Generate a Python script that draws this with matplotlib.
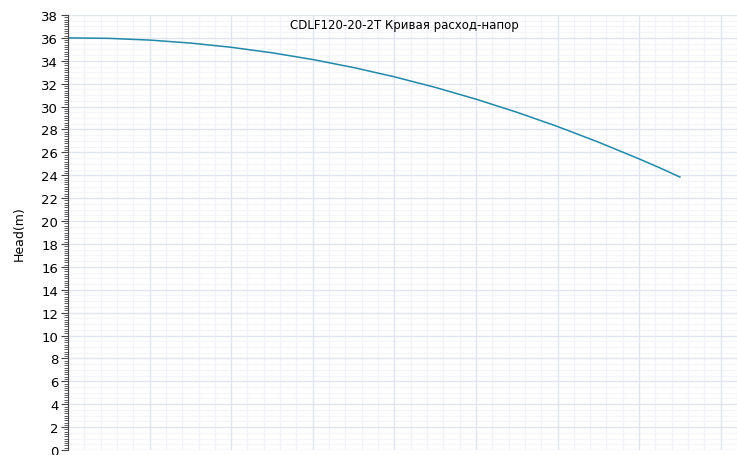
import matplotlib
matplotlib.use("Agg")
import matplotlib.pyplot as plt
from matplotlib.ticker import MultipleLocator

plt.rcParams['font.family'] = ['DejaVu Sans']

# flow (m3/h) vs head (m)
flow = [0, 10, 20, 30, 40, 50, 60, 70, 80, 90, 100, 110, 120, 130, 140, 145, 150]
head = [36.0, 35.96, 35.81, 35.55, 35.18, 34.70, 34.11, 33.41, 32.60, 31.68, 30.65,
        29.51, 28.26, 26.90, 25.43, 24.66, 23.85]

title = "CDLF120-20-2T Кривая расход-напор"

fig = plt.figure(figsize=(7.37, 4.56), dpi=100)
ax = fig.add_axes([68 / 737, 5 / 456, 1 - 68 / 737, (451 - 16) / 456])

ax.plot(flow, head, color="#2088a8", lw=1.1)

ax.set_xlim(0, 164)
ax.set_ylim(0, 38)
ax.xaxis.set_major_locator(MultipleLocator(20))
ax.xaxis.set_minor_locator(MultipleLocator(4))
ax.yaxis.set_major_locator(MultipleLocator(2))
ax.yaxis.set_minor_locator(MultipleLocator(0.2))

ax.grid(which="major", color="#e1e5f0", lw=1.0)
ax.grid(which="minor", axis="x", color="#f1f3f9", lw=0.9)
ax.set_axisbelow(True)
# lighter horizontal minor lines every 0.5
for v in [i * 0.5 for i in range(77)]:
    if v % 2:
        ax.axhline(v, color="#f3f5fa", lw=0.8, zorder=0)

for s in ["top", "right", "bottom"]:
    ax.spines[s].set_visible(False)
ax.spines["left"].set_color("#444444")

ax.tick_params(axis="x", which="both", bottom=False, labelbottom=False)
ax.tick_params(axis="y", which="major", length=5, color="#444444", labelsize=9.5, pad=2)
ax.tick_params(axis="y", which="minor", length=3, color="#444444")

ax.set_ylabel("Head(m)", fontsize=9, labelpad=11)
fig.text(404 / 737, 1 - 26 / 456, title, ha="center", va="center", fontsize=8.5)

fig.savefig("out.png", dpi=100)
